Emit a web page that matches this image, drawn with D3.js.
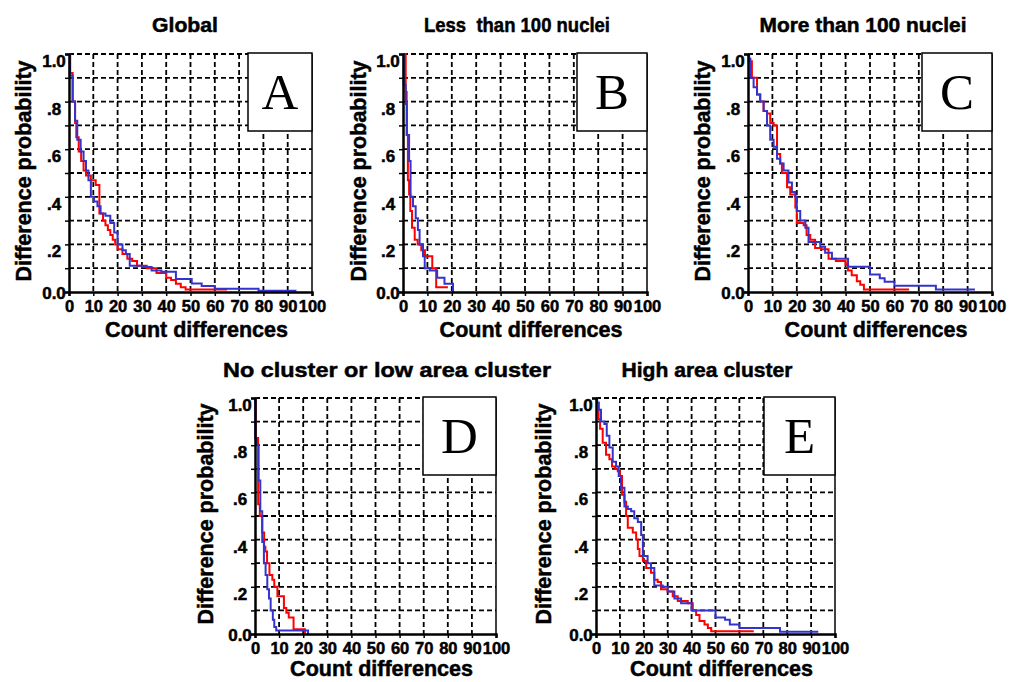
<!DOCTYPE html>
<html>
<head>
    <title>Difference probability curves</title>
    <script src="https://d3js.org/d3.v7.min.js"></script>
    <style>
        body { margin: 0; background: #fff; }
        text { font-family: "Liberation Sans", Arial, Helvetica, sans-serif; font-weight: bold; fill: #000; stroke: #000; stroke-width: 0.5px; }
        .letter { font-family: "Liberation Serif", "Times New Roman", serif; font-weight: normal; stroke: none; }
    </style>
</head>
<body>
    <svg width="1012" height="682"></svg>

    <script>
    // --- data ---
    const titles = ["Global", "Less  than 100 nuclei", "More than 100 nuclei",
                    "No cluster or low area cluster", "High area cluster"];
    const letters = ["A", "B", "C", "D", "E"];
    const xTicks = [0, 10, 20, 30, 40, 50, 60, 70, 80, 90, 100];
    const yGrid = [0, 0.1, 0.2, 0.3, 0.4, 0.5, 0.6, 0.7, 0.8, 0.9, 1.0];
    const yTickValues = [0, 0.2, 0.4, 0.6, 0.8, 1.0];
    const yTickLabels = ["0.0", ".2", ".4", ".6", ".8", "1.0"];

    // each curve: value becomes y[i] at count difference x[i]
    const redA_x = [0, 0.5, 1.5, 2.5, 3, 4, 5, 6, 7, 9, 11, 12.5, 14, 15, 16, 17, 18, 19, 20, 22, 24, 26, 28, 32, 36, 40, 42, 44, 46, 48, 65];
    const redA_y = [1, 0.92, 0.80, 0.71, 0.65, 0.59, 0.55, 0.51, 0.49, 0.47, 0.45, 0.33, 0.30, 0.28, 0.26, 0.24, 0.22, 0.20, 0.18, 0.16, 0.14, 0.13, 0.11, 0.10, 0.08, 0.06, 0.05, 0.035, 0.02, 0.01, 0.01];
    const blueA_x = [0, 0.3, 1.5, 2.5, 3.4, 4.8, 6, 7, 8, 9, 10.3, 11.7, 13, 15, 17, 18.6, 20, 22, 23.4, 25, 30, 34, 38, 44, 50.5, 54.6, 60, 78, 93.6];
    const blueA_y = [1, 0.91, 0.80, 0.72, 0.64, 0.59, 0.55, 0.51, 0.47, 0.40, 0.38, 0.36, 0.33, 0.32, 0.29, 0.25, 0.20, 0.175, 0.16, 0.11, 0.105, 0.09, 0.085, 0.055, 0.036, 0.025, 0.014, 0.005, 0.005];

    const redB_x = [0, 1.1, 1.5, 2, 2.5, 3, 3.7, 4.8, 6, 7.5, 9, 12, 13.6, 18.4];
    const redB_y = [1, 0.84, 0.66, 0.47, 0.41, 0.34, 0.27, 0.22, 0.20, 0.175, 0.15, 0.10, 0.02, 0.02];
    const blueB_x = [0, 0.3, 1.1, 1.6, 2.5, 3.1, 4.1, 5.2, 6.1, 6.8, 8.2, 8.9, 11, 14, 17, 20.5];
    const blueB_y = [1, 0.87, 0.79, 0.66, 0.55, 0.40, 0.36, 0.31, 0.26, 0.20, 0.15, 0.10, 0.09, 0.06, 0.035, 0];

    const redC_x = [0, 0.3, 1.6, 3.7, 5, 6.4, 7.8, 9.1, 10.5, 11.9, 13.2, 13.9, 16, 17.3, 19.4, 20, 22.8, 24, 25.5, 27.5, 30, 33, 36, 40, 41, 42.5, 44.6, 46, 47.5, 66];
    const redC_y = [1, 0.97, 0.90, 0.83, 0.80, 0.76, 0.75, 0.71, 0.70, 0.58, 0.54, 0.50, 0.44, 0.41, 0.355, 0.29, 0.28, 0.24, 0.22, 0.185, 0.18, 0.14, 0.13, 0.115, 0.09, 0.07, 0.045, 0.03, 0.011, 0.011];
    const blueC_x = [0, 0.5, 1, 2.3, 3.7, 5, 6.4, 7.8, 9.1, 10.5, 11.9, 13.2, 14.6, 16.6, 18, 19.4, 20, 21.4, 23.5, 24.8, 29.6, 31.6, 34.4, 41, 50, 54, 56, 60, 77, 93];
    const blueC_y = [1, 0.98, 0.90, 0.86, 0.83, 0.80, 0.76, 0.70, 0.64, 0.61, 0.56, 0.54, 0.51, 0.46, 0.42, 0.40, 0.34, 0.30, 0.27, 0.21, 0.19, 0.165, 0.14, 0.106, 0.074, 0.058, 0.043, 0.026, 0.011, 0.011];

    const redD_x = [0, 0.3, 1.3, 2, 3, 3.8, 4.3, 5, 6, 7.2, 8, 9.3, 12, 13, 14, 16, 20.7];
    const redD_y = [1, 0.83, 0.55, 0.50, 0.43, 0.37, 0.35, 0.30, 0.25, 0.23, 0.20, 0.16, 0.11, 0.09, 0.07, 0.02, 0];
    const blueD_x = [0, 0.1, 0.8, 1.5, 2.2, 3, 3.7, 4.4, 5.1, 5.8, 6.5, 7.4, 8, 8.8, 22];
    const blueD_y = [1, 0.83, 0.80, 0.65, 0.52, 0.39, 0.30, 0.25, 0.19, 0.15, 0.10, 0.06, 0.03, 0.015, 0];

    const redE_x = [0, 0.4, 1.1, 1.7, 2.8, 4.2, 5.6, 6.7, 8, 9.1, 10, 10.9, 11.9, 12.6, 13.3, 15.4, 16.8, 17.5, 18.2, 19.6, 21, 23, 24.4, 25.8, 27.2, 30, 32.1, 34.2, 38.4, 40.5, 41.9, 43.3, 45.4, 46.8, 48.2, 66];
    const redE_y = [1, 0.98, 0.91, 0.87, 0.81, 0.76, 0.74, 0.71, 0.70, 0.69, 0.67, 0.59, 0.56, 0.50, 0.45, 0.43, 0.40, 0.36, 0.33, 0.31, 0.28, 0.26, 0.23, 0.22, 0.19, 0.18, 0.16, 0.14, 0.13, 0.10, 0.08, 0.055, 0.04, 0.025, 0.012, 0.012];
    const blueE_x = [0, 0.5, 1.1, 2.1, 3.5, 4.5, 5.6, 7, 8.4, 9.5, 10.5, 11.9, 13.3, 14.7, 16, 17.5, 18.9, 19.6, 21.6, 23, 24.4, 27.9, 30, 32.8, 35.6, 40, 50, 54, 56, 60, 77, 93];
    const blueE_y = [1, 0.98, 0.95, 0.90, 0.89, 0.84, 0.79, 0.73, 0.71, 0.67, 0.62, 0.54, 0.53, 0.52, 0.49, 0.475, 0.42, 0.33, 0.30, 0.28, 0.205, 0.20, 0.18, 0.15, 0.13, 0.10, 0.07, 0.06, 0.04, 0.025, 0.01, 0.01];

    const redSeries = [[redA_x, redA_y], [redB_x, redB_y], [redC_x, redC_y], [redD_x, redD_y], [redE_x, redE_y]];
    const blueSeries = [[blueA_x, blueA_y], [blueB_x, blueB_y], [blueC_x, blueC_y], [blueD_x, blueD_y], [blueE_x, blueE_y]];

    // --- layout of the five panels ---
    const panels = [
        {left: 69,  right: 312, top: 54,  bottom: 292, titleX: 185, titleY: 32,  titleW: 66,  ylab: 46, xlab: 45, boxW: 64},
        {left: 403, right: 647, top: 54,  bottom: 292, titleX: 517, titleY: 32,  titleW: 186, ylab: 45, xlab: 45, boxW: 70},
        {left: 748, right: 992, top: 54,  bottom: 292, titleX: 863, titleY: 32,  titleW: 207, ylab: 46, xlab: 45, boxW: 70},
        {left: 255, right: 496, top: 398, bottom: 634, titleX: 387, titleY: 377, titleW: 328, ylab: 50, xlab: 42, boxW: 73},
        {left: 596, right: 835, top: 398, bottom: 634, titleX: 707, titleY: 377, titleW: 171, ylab: 53, xlab: 42, boxW: 71}
    ];

    const svg = d3.select("svg");
    svg.append("rect").attr("width", 1012).attr("height", 682).attr("fill", "#fff");

    panels.forEach(function(p, i) {
        const x = d3.scaleLinear().domain([0, 100]).range([p.left, p.right]);
        const y = d3.scaleLinear().domain([0, 1]).range([p.bottom, p.top]);
        const g = svg.append("g");

        // dashed grid
        g.selectAll(".hgrid").data(yGrid.slice(1)).enter().append("line")
            .attr("x1", p.left).attr("x2", p.right)
            .attr("y1", d => y(d)).attr("y2", d => y(d))
            .attr("stroke", "#000").attr("stroke-width", d => d === 1 ? 2.2 : 1.8)
            .attr("stroke-dasharray", "5,3");
        g.selectAll(".vgrid").data(xTicks.slice(1, -1)).enter().append("line")
            .attr("x1", d => x(d)).attr("x2", d => x(d))
            .attr("y1", p.top).attr("y2", p.bottom)
            .attr("stroke", "#000").attr("stroke-width", 1.8)
            .attr("stroke-dasharray", "5,3");
        // right border
        g.append("line").attr("x1", x(100)).attr("x2", x(100))
            .attr("y1", p.top).attr("y2", p.bottom)
            .attr("stroke", "#000").attr("stroke-width", 1.5);

        // letter box
        const boxH = 78;
        g.append("rect").attr("x", p.right - p.boxW).attr("y", p.top - 1)
            .attr("width", p.boxW).attr("height", boxH)
            .attr("fill", "#fff").attr("stroke", "#000").attr("stroke-width", 1.5);
        g.append("text").attr("class", "letter")
            .attr("x", p.right - p.boxW / 2).attr("y", p.top - 1 + boxH / 2 + 17)
            .attr("text-anchor", "middle").style("font-size", "51px")
            .text(letters[i]);

        // curves
        const line = d3.line().x(d => x(d[0])).y(d => y(d[1])).curve(d3.curveStepAfter);
        [[redSeries[i], "#ff0000"], [blueSeries[i], "#3434cc"]].forEach(function(s) {
            const pts = s[0][0].map((v, k) => [v, s[0][1][k]]);
            g.append("path").attr("d", line(pts))
                .attr("fill", "none").attr("stroke", s[1]).attr("stroke-width", 2);
        });

        // axes
        const xAxis = g.append("g").attr("transform", `translate(0,${p.bottom})`)
            .call(d3.axisBottom(x).tickValues(xTicks).tickSize(4).tickFormat(d3.format("d")));
        const yAxis = g.append("g").attr("transform", `translate(${p.left},0)`)
            .call(d3.axisLeft(y).tickValues(yGrid).tickSize(4).tickFormat(""));
        [xAxis, yAxis].forEach(function(a) {
            a.select(".domain").attr("stroke", "#000").attr("stroke-width", 2.5);
            a.selectAll(".tick line").attr("stroke", "#000").attr("stroke-width", 1.5);
        });
        xAxis.selectAll(".tick text").attr("y", 8).attr("dy", "0.71em")
            .style("font-size", "16.5px").attr("fill", "#000");

        g.selectAll(".ylab").data(yTickValues).enter().append("text")
            .attr("x", p.left - 15)
            .attr("y", d => d === 0 ? y(d) + 7 : y(d) + 13)
            .attr("text-anchor", "middle").style("font-size", "17px")
            .text((d, k) => yTickLabels[k]);

        // labels
        g.append("text").attr("x", (p.left + p.right) / 2 + 6).attr("y", p.bottom + p.xlab)
            .attr("text-anchor", "middle").style("font-size", "21.5px")
            .text("Count differences");
        g.append("text")
            .attr("transform", `translate(${p.left - p.ylab},${(p.top + p.bottom) / 2 - 2}) rotate(-90)`)
            .attr("text-anchor", "middle").attr("dy", "0.35em").style("font-size", "21.5px")
            .text("Difference probability");
        g.append("text").attr("x", p.titleX - p.titleW / 2).attr("y", p.titleY)
            .attr("textLength", p.titleW).attr("lengthAdjust", "spacingAndGlyphs")
            .style("font-size", "20.5px").style("white-space", "pre")
            .text(titles[i]);
    });
    </script>
</body>
</html>
